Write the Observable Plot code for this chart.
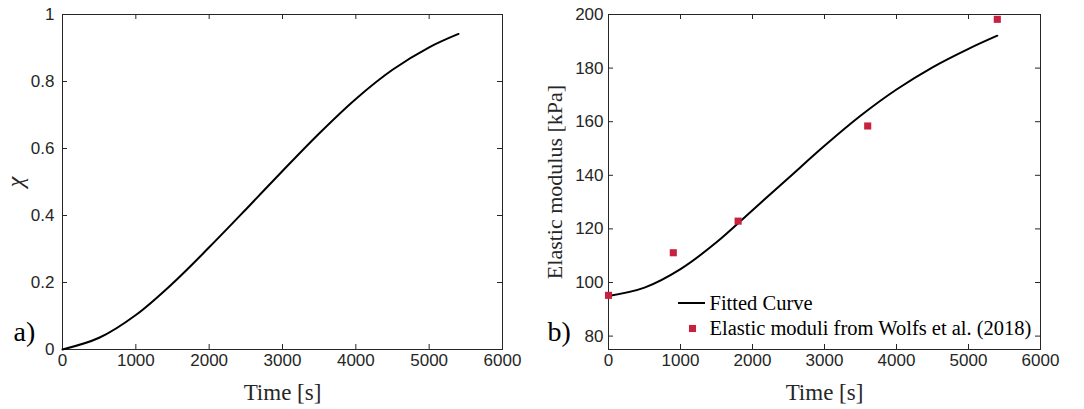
<!DOCTYPE html>
<html><head><meta charset="utf-8">
<script src="https://cdn.jsdelivr.net/npm/d3@7"></script>
<script src="https://cdn.jsdelivr.net/npm/@observablehq/plot@0.6"></script>
<style>
body{margin:0;background:#fff}
#wrap{display:flex;width:1084px;height:409px}
</style>
</head><body><div id="wrap"></div>
<script>
// ---- data ----
const timeFit = [0, 500, 1000, 1500, 2000, 2500, 3000, 3500, 4000, 4500, 5000, 5400];
const chi = [0, 0.035, 0.103, 0.197, 0.305, 0.418, 0.533, 0.645, 0.748, 0.835, 0.902, 0.942];
const modulusFit = [95, 98.1, 105.0, 115.0, 127.0, 139.0, 151.0, 162.2, 172.0, 180.3, 187.2, 192.1];
const timeObs = [0, 900, 1800, 3600, 5400];
const modulusObs = [95.2, 111.1, 122.9, 158.4, 198.2];
const xTicks = [0, 1000, 2000, 3000, 4000, 5000, 6000];
const chiTicks = [0, 0.2, 0.4, 0.6, 0.8, 1];
const modTicks = [80, 100, 120, 140, 160, 180, 200];
const legendLabels = ["Fitted Curve", "Elastic moduli from Wolfs et al. (2018)"];

const RED = "#c8203f";
const AX = "#262626";
const SERIF = "Liberation Serif, DejaVu Serif, serif";
const SANS = "Liberation Sans, Arial, sans-serif";
const H = 409, MT = 14, MB = 60;
const innerH = H - MT - MB;

function panel({width, ml, mr, yDomain, yTicks, yLabel, yLabelItalic, yLabelDx, yPad, tag, tagDx, fit, obs}) {
  const innerW = width - ml - mr;
  const fitTable = timeFit.map((t, i) => ({t, v: fit[i]}));
  const marks = [
    Plot.frame({stroke: AX, strokeWidth: 1}),
    Plot.tickX(xTicks, {x: d => d, stroke: AX, insetTop: innerH - 5}),
    Plot.tickX(xTicks, {x: d => d, stroke: AX, insetBottom: innerH - 5}),
    Plot.tickY(yTicks, {y: d => d, stroke: AX, insetRight: innerW - 5}),
    Plot.tickY(yTicks, {y: d => d, stroke: AX, insetLeft: innerW - 5}),
    Plot.axisX(xTicks, {tickSize: 0, tickPadding: 4, label: null, tickFormat: d => String(d), fontSize: 17, fontFamily: SANS, fill: AX}),
    Plot.axisY(yTicks, {tickSize: 0, tickPadding: yPad, label: null, tickFormat: d => String(d), fontSize: 17, fontFamily: SANS, fill: AX}),
    Plot.line(fitTable, {x: "t", y: "v", stroke: "black", strokeWidth: 2, curve: "catmull-rom"}),
    Plot.text(["Time [s]"], {frameAnchor: "bottom", dy: 43, lineAnchor: "middle", textAnchor: "middle", fontFamily: SERIF, fontSize: 23, fill: AX}),
    Plot.text([yLabel], {frameAnchor: "left", dx: yLabelDx, rotate: -90, textAnchor: "middle", lineAnchor: "middle", fontFamily: SERIF, fontSize: yLabelItalic ? 24 : 22, fontStyle: yLabelItalic ? "italic" : "normal", fill: AX}),
    Plot.text([tag], {frameAnchor: "bottom-left", dx: tagDx, dy: -17, textAnchor: "start", lineAnchor: "middle", fontFamily: SERIF, fontSize: 28, fill: "black"})
  ];
  if (obs) {
    const obsTable = timeObs.map((t, i) => ({t, v: modulusObs[i]}));
    marks.push(Plot.dot(obsTable, {x: "t", y: "v", symbol: "square", r: 4, fill: RED, stroke: "none"}));
    marks.push(Plot.dot([0], {frameAnchor: "bottom-left", dx: 84, dy: -21, symbol: "square", r: 4, fill: RED, stroke: "none"}));
    marks.push(Plot.text([legendLabels[0]], {frameAnchor: "bottom-left", dx: 101, dy: -46, textAnchor: "start", lineAnchor: "middle", fontFamily: SERIF, fontSize: 20.5, fill: "black"}));
    marks.push(Plot.text([legendLabels[1]], {frameAnchor: "bottom-left", dx: 101, dy: -21, textAnchor: "start", lineAnchor: "middle", fontFamily: SERIF, fontSize: 20.5, fill: "black"}));
  }
  return Plot.plot({
    width, height: H, marginTop: MT, marginBottom: MB, marginLeft: ml, marginRight: mr,
    style: {background: "white", fontFamily: SANS, color: AX, overflow: "visible"},
    x: {domain: [0, 6000]},
    y: {domain: yDomain},
    marks
  });
}

const left = panel({width: 542, ml: 62, mr: 40, yDomain: [0, 1], yTicks: chiTicks,
  yLabel: "χ", yLabelItalic: true, yLabelDx: -47, yPad: 8,
  tag: "a)", tagDx: -49, fit: chi});
const right = panel({width: 542, ml: 66, mr: 44, yDomain: [75, 200], yTicks: modTicks,
  yLabel: "Elastic modulus [kPa]", yLabelItalic: false, yLabelDx: -54, yPad: 5,
  tag: "b)", tagDx: -61, fit: modulusFit, obs: true});
document.getElementById("wrap").append(left, right);

// legend line sample (relative to the right panel's frame bottom-left)
(function() {
  const fx = 66, fy = H - MB;
  d3.select(right).append("line")
    .attr("x1", fx + 70).attr("x2", fx + 97).attr("y1", fy - 46).attr("y2", fy - 46)
    .attr("stroke", "black").attr("stroke-width", 2);
})();
</script>
</body></html>
